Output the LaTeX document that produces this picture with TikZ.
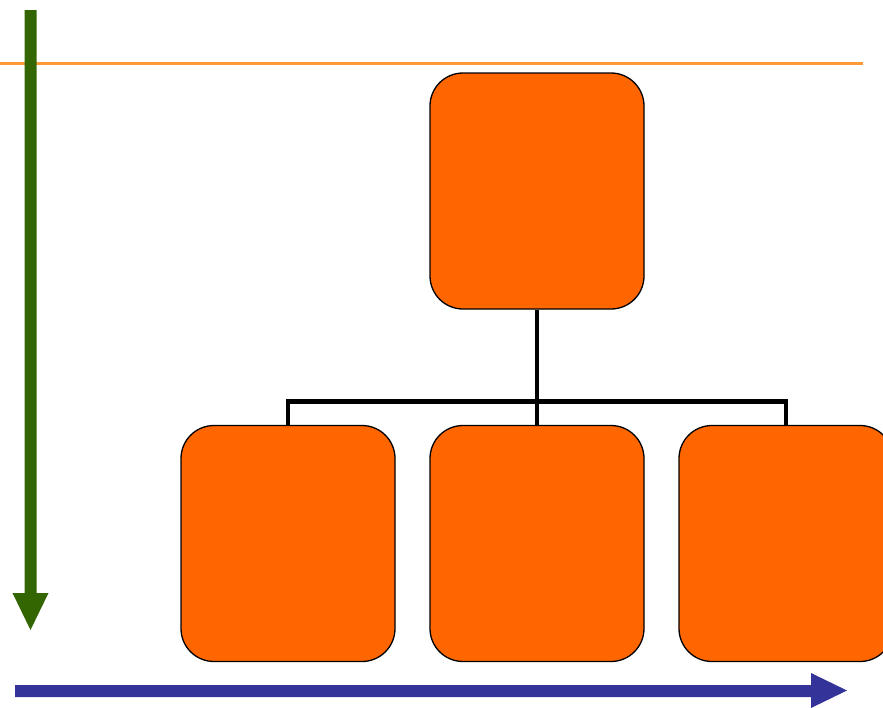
\documentclass[tikz,border=0pt]{standalone}
\usetikzlibrary{calc}
\definecolor{boxorange}{HTML}{FF6600}
\definecolor{lineorange}{HTML}{FF9933}
\definecolor{arrgreen}{HTML}{336600}
\definecolor{arrblue}{HTML}{333399}
\begin{document}
\begin{tikzpicture}[x=1pt,y=-1pt,
  orgbox/.style={draw=black,line width=1.3pt,fill=boxorange,rounded corners=33pt,minimum width=214pt,minimum height=236pt,inner sep=0pt},
  link/.style={draw=black,line width=4.5pt}]
\useasboundingbox (0,0) rectangle (883,707);
\draw[lineorange,line width=3pt] (0,63) -- (863,63);
% green arrow
\fill[arrgreen] (24.5,10) -- (36.5,10) -- (36.5,593) -- (48.5,593) -- (30.5,630) -- (12.5,593) -- (24.5,593) -- cycle;
% blue arrow
\fill[arrblue] (15,685) -- (811,685) -- (811,673) -- (847,690.5) -- (811,708) -- (811,697) -- (15,697) -- cycle;
\node[orgbox] (top) at (537,191) {};
\node[orgbox] (b1) at (288,543.5) {};
\node[orgbox] (b2) at (537,543.5) {};
\node[orgbox] (b3) at (786,543.5) {};
\coordinate (mid) at (537,401.5);
\draw[link] (top.south) -- (mid);
\draw[link] (b1.north) |- (mid) -| (b3.north);
\draw[link] (mid) -- (b2.north);
\end{tikzpicture}
\end{document}
